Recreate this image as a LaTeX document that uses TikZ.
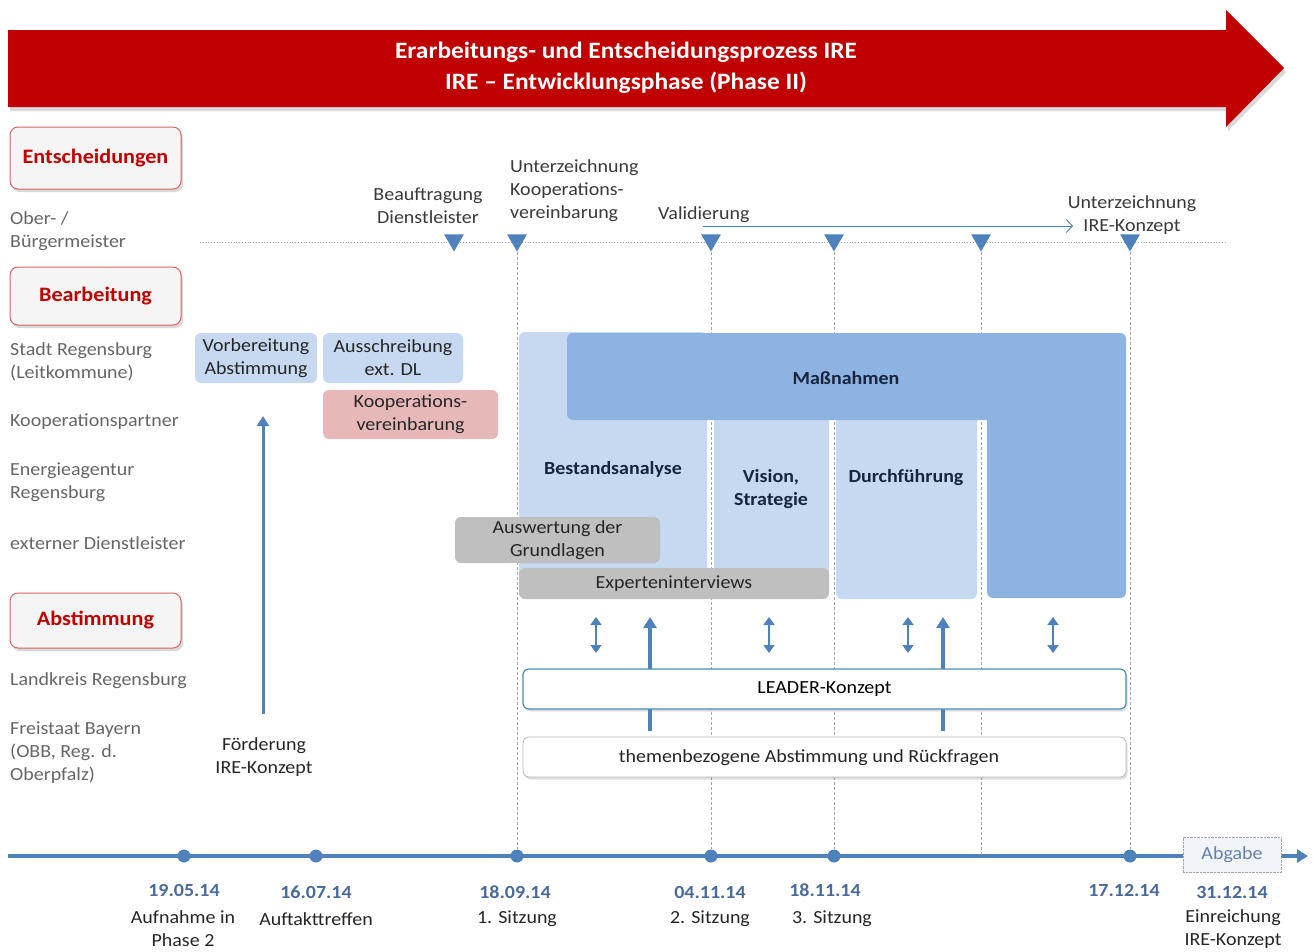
\documentclass[tikz,border=0pt]{standalone}
\usepackage{fontspec}
\setmainfont{Carlito}[FakeStretch=1.08]
\usetikzlibrary{arrows.meta,shadows,shapes.geometric}
\definecolor{ired}{HTML}{C00000}
\definecolor{iblue}{HTML}{4F81BD}
\definecolor{lblue}{HTML}{C6D9F1}
\definecolor{mblue}{HTML}{8DB3E2}
\definecolor{igray}{HTML}{BFBFBF}
\definecolor{ipink}{HTML}{E6B9B8}
\definecolor{ltxt}{HTML}{666666}
\definecolor{dtxt}{HTML}{3A3A3A}
\definecolor{navy}{HTML}{17253D}
\definecolor{dateblue}{HTML}{4A6A9C}
\definecolor{leadline}{HTML}{4A8DB8}
\newcommand{\myfs}{\fontsize{18.5}{23}\selectfont}
\begin{document}
\begin{tikzpicture}[x=1pt,y=-1pt,
  every node/.style={font=\myfs, inner sep=0pt},
  catbox/.style={draw=ired!60!white, fill=gray!8, rounded corners=8pt, line width=1pt,
    minimum width=171, font=\fontsize{20.5}{24}\selectfont\bfseries, text=ired,
    drop shadow={opacity=0.3,shadow xshift=2pt,shadow yshift=-3pt}},
  rowlbl/.style={anchor=west, align=left, text=ltxt},
  toplbl/.style={align=center, text=dtxt},
  tbox/.style={rounded corners=6pt, align=center, text=black!85},
  colbox/.style={fill=lblue, rounded corners=6pt},
  coltxt/.style={align=center, font=\myfs\bfseries, text=navy},
  greybox/.style={fill=igray, rounded corners=6pt, align=center, text=black!85},
  marker/.style={regular polygon, regular polygon sides=3, shape border rotate=180, fill=iblue, minimum size=23},
  tdot/.style={circle, fill=iblue, minimum size=13},
  vline/.style={densely dashed, gray!70, line width=0.7pt},
  dbl/.style={iblue, line width=1.8pt, {Triangle[length=8,width=11]}-{Triangle[length=8,width=11]}},
  uparrow/.style={iblue, line width=3.2pt, -{Triangle[length=11,width=13]}},
  datelbl/.style={font=\myfs\bfseries, text=dateblue},
  caplbl/.style={align=center, text=black!85},
  wbox/.style={fill=white, rounded corners=6pt, minimum width=603, minimum height=40,
    drop shadow={opacity=0.25,shadow xshift=1.5pt,shadow yshift=-2.5pt}}
]
\useasboundingbox (0,0) rectangle (1314,951);

% title arrow
\fill[ired, drop shadow={opacity=0.3,shadow xshift=2pt,shadow yshift=-4pt}]
  (8,30) -- (1226,30) -- (1226,10) -- (1284,68) -- (1226,127) -- (1226,107) -- (8,107) -- cycle;
\node[align=center, text=white, font=\fontsize{23.5}{31}\selectfont\bfseries] (title) at (626,68)
  {Erarbeitungs- und Entscheidungsprozess IRE\\IRE -- Entwicklungsphase (Phase II)};

% category boxes
\node[catbox, minimum height=62] (ent) at (95.5,158) {Entscheidungen};
\node[catbox, minimum height=58] (bear) at (95.5,296) {Bearbeitung};
\node[catbox, minimum height=55] (abst) at (95.5,620.5) {Abstimmung};

% row labels
\node[rowlbl] (r1) at (10,231.5) {Ober- /\\Bürgermeister};
\node[rowlbl] (r2) at (10,361.5) {Stadt Regensburg\\(Leitkommune)};
\node[rowlbl] (r3) at (10,422) {Kooperationspartner};
\node[rowlbl] (r4) at (10,482.5) {Energieagentur\\Regensburg};
\node[rowlbl] (r5) at (10,543) {externer Dienstleister};
\node[rowlbl] (r6) at (10,681) {Landkreis Regensburg};
\node[rowlbl] (r7) at (10,752.5) {Freistaat Bayern\\(OBB, Reg. d.\\Oberpfalz)};

% dotted decision line
\coordinate (dl) at (200,242);
\coordinate (dr) at (1225,242);
\draw[dotted, gray!70, line width=0.8pt] (dl) -- (dr);

% timeline
\coordinate (tl0) at (8,856);
\coordinate (tl1) at (1308,856);
\draw[iblue, line width=4.5pt, -{Triangle[length=11,width=13]}] (tl0) -- (tl1);
\node[tdot] (d1) at (184,856) {};
\node[tdot] (d2) at (316,856) {};
\node[tdot] (d3) at (517,856) {};
\node[tdot] (d4) at (711,856) {};
\node[tdot] (d5) at (834,856) {};
\coordinate (d6) at (981,856);
\node[tdot] (d7) at (1130,856) {};
\node[draw=gray!70, densely dotted, fill=iblue!8, minimum width=98, minimum height=35, text=dateblue!85] (abg) at (1232,855) {Abgabe};

% markers
\node[marker] (t1) at (454,240) {};
\node[marker] (t2) at (517,240) {};
\node[marker] (t3) at (711,240) {};
\node[marker] (t4) at (834,240) {};
\node[marker] (t5) at (981,240) {};
\node[marker] (t6) at (1130,240) {};

% vertical dashed lines
\draw[vline] (t2.south) -- (d3.north);
\draw[vline] (t3.south) -- (d4.north);
\draw[vline] (t4.south) -- (d5.north);
\draw[vline] (t5.south) -- (d6);
\draw[vline] (t6.south) -- (d7.north);

% top labels
\node[toplbl] (beauf) at (428,205.5) {Beauftragung\\Dienstleister};
\node[anchor=west, align=left, text=dtxt] (unt1) at (510,191) {Unterzeichnung\\Kooperations-\\vereinbarung};
\node[anchor=west, text=dtxt] (valid) at (658,215) {Validierung};
\coordinate (v0) at (703,226);
\coordinate (v1) at (1073,226);
\draw[iblue, line width=1pt, -{Straight Barb[length=6,width=13]}] (v0) -- (v1);
\node[toplbl] (unt2) at (1132,215) {Unterzeichnung\\IRE-Konzept};

% early boxes
\node[tbox, fill=lblue, minimum width=122, minimum height=50] (vorb) at (256,358) {Vorbereitung\\Abstimmung};
\node[tbox, fill=lblue, minimum width=140, minimum height=50] (aus) at (393,358) {Ausschreibung\\ext. DL};
\node[tbox, fill=ipink, minimum width=175, minimum height=49] (koop) at (410.5,414.5) {Kooperations-\\vereinbarung};

% Foerderung arrow
\coordinate (f0) at (263,714);
\coordinate (f1) at (263,416);
\draw[iblue, line width=3pt, -{Triangle[length=10,width=12]}] (f0) -- (f1);
\node[caplbl] (foerd) at (264,757.5) {Förderung\\IRE-Konzept};

% columns
\node[colbox, minimum width=188, minimum height=266] (best) at (613,465) {};
\node[colbox, minimum width=115, minimum height=186] (vis) at (771.5,505) {};
\node[colbox, minimum width=141, minimum height=187] (durch) at (906.5,505.5) {};
\fill[mblue] (700,420) [rounded corners=6pt] -- (567,420) -- (567,333) -- (1126,333) -- (1126,598) -- (987,598) [sharp corners] -- (987,420) -- cycle;
\node[coltxt] (massn) at (846,378) {Maßnahmen};
\node[coltxt] (bestt) at (613,469) {Bestandsanalyse};
\node[coltxt] (vist) at (771,489.5) {Vision,\\Strategie};
\node[coltxt] (durcht) at (906,478) {Durchführung};

% grey boxes
\node[greybox, minimum width=205, minimum height=46] (ausw) at (557.5,540) {Auswertung der\\Grundlagen};
\node[greybox, minimum width=310, minimum height=31] (exp) at (674,583.5) {Experteninterviews};

% arrows in Abstimmung area
\foreach \x/\n in {596/a, 769/b, 908/c, 1053/d} {
  \coordinate (da\n) at (\x,617);
  \coordinate (db\n) at (\x,653);
  \draw[dbl] (da\n) -- (db\n);
}
\coordinate (u1s) at (650,731);
\coordinate (u1e) at (650,617);
\coordinate (u2s) at (943,731);
\coordinate (u2e) at (943,617);
\draw[uparrow] (u1s) -- (u1e);
\draw[uparrow] (u2s) -- (u2e);

% LEADER and themen boxes
\node[wbox, draw=leadline, line width=1.2pt] (leader) at (824.5,689) {LEADER-Konzept};
\node[wbox, draw=gray!55, line width=0.8pt] (themen) at (824.5,757) {};
\node[text=black!85] (thement) at (809,758) {themenbezogene Abstimmung und Rückfragen};

% dates and captions
\node[datelbl] (dt1) at (184,890) {19.05.14};
\node[caplbl] (c1) at (183,929) {Aufnahme in\\Phase 2};
\node[datelbl] (dt2) at (316,892) {16.07.14};
\node[caplbl] (c2) at (316,919) {Auftakttreffen};
\node[datelbl] (dt3) at (515,892) {18.09.14};
\node[caplbl] (c3) at (517,919) {1. Sitzung};
\node[datelbl] (dt4) at (710,892) {04.11.14};
\node[caplbl] (c4) at (710,919) {2. Sitzung};
\node[datelbl] (dt5) at (825,890) {18.11.14};
\node[caplbl] (c5) at (832,919) {3. Sitzung};
\node[datelbl] (dt6) at (1124,890) {17.12.14};
\node[datelbl] (dt7) at (1232,892) {31.12.14};
\node[caplbl] (c7) at (1233,929.5) {Einreichung\\IRE-Konzept};
\end{tikzpicture}
\end{document}
